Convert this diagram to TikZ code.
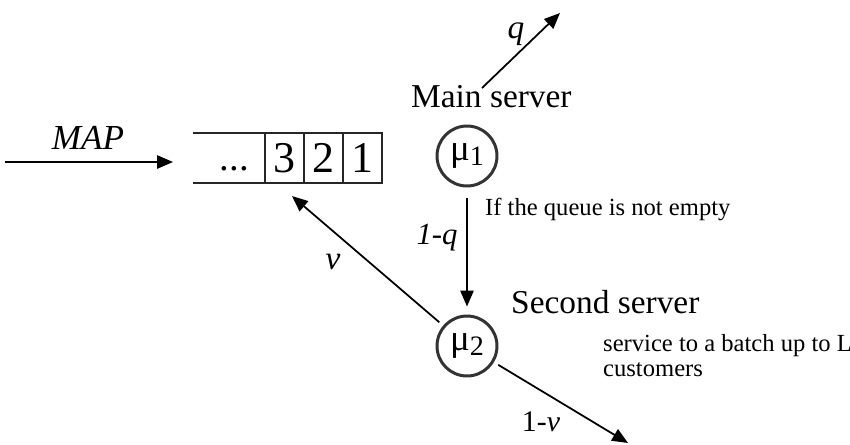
\documentclass[tikz,border=0pt]{standalone}
\usepackage{fontspec}
\setmainfont{Liberation Serif}
\usetikzlibrary{arrows.meta,positioning}
\tikzset{
  cell/.style={draw=black!85,line width=0.6pt,minimum width=0.78cm,minimum height=1cm,
    inner sep=0pt,outer sep=0pt,font=\fontsize{25}{25}\selectfont},
  server/.style={circle,draw=black!80,line width=1.7pt,minimum size=1.2cm,inner sep=0pt,
    font=\fontsize{21}{21}\selectfont},
  flow/.style={->,line width=1pt},
  lbl/.style={font=\fontsize{19}{19}\selectfont\itshape},
  title/.style={font=\fontsize{19}{19}\selectfont,anchor=base west},
  note/.style={font=\fontsize{14}{14.2}\selectfont,align=left},
}
\newcommand{\musub}[1]{μ\raisebox{-3pt}{\fontsize{16}{16}\selectfont#1}}
\begin{document}
\begin{tikzpicture}[x=0.02cm,y=-0.02cm,>={Triangle[length=9pt,width=7.5pt]}]
\useasboundingbox (0,0) rectangle (850,444);
% the queue
\node[cell] (c1) at (362.5,158) {1};
\node[cell,left=0pt of c1] (c2) {2};
\node[cell,left=0pt of c2] (c3) {3};
\node[cell,draw=none,minimum width=1.44cm,left=0pt of c3,font=\fontsize{22}{22}\selectfont]
  (cdots) {\hspace{6pt}\vphantom{3}...};
\draw[black!85,line width=0.6pt] (c3.north west) -- (cdots.north west)
  (c3.south west) -- (cdots.south west);
% arrivals
\coordinate (mapin) at (5,162);
\draw[flow,shorten >=0.4cm] (mapin) -- (mapin -| cdots.west);
\node[lbl,font=\fontsize{20}{20}\selectfont\itshape] (maplbl) at (88,138) {MAP};
% servers
\node[server] (mu1) at (467,156) {\musub{1}};
\node[server] (mu2) at (467,346) {\musub{2}};
\node[title] (mainlbl) at (405,107) {Main server};
\node[title] (secondlbl) at (505,313) {Second server};
\node[note,anchor=base west] (emptylbl) at (479,215) {If the queue is not empty};
\node[note,anchor=west] (batchlbl) at (597,356) {service to a batch up to L\\customers};
% routing
\coordinate (qfrom) at (482,88);
\coordinate (qto) at (560,13);
\draw[flow] (qfrom) -- (qto);
\node[lbl] (qlbl) at (516,34) {q};
\draw[flow,shorten <=0.22cm,shorten >=0.16cm] (mu1) -- (mu2);
\node[lbl,font=\fontsize{17.5}{17.5}\selectfont\itshape] (qbacklbl) at (437,238) {1-q};
\coordinate (vto) at (292,196);
\draw[flow,shorten <=0.1cm] (mu2) -- (vto);
\node[lbl] (vlbl) at (333,262) {v};
\coordinate (outto) at (628,443);
\draw[flow,shorten <=0.1cm] (mu2) -- (outto);
\node[font=\fontsize{17}{17}\selectfont] (outlbl) at (541,422) {1-\textit{v}};
\end{tikzpicture}
\end{document}
